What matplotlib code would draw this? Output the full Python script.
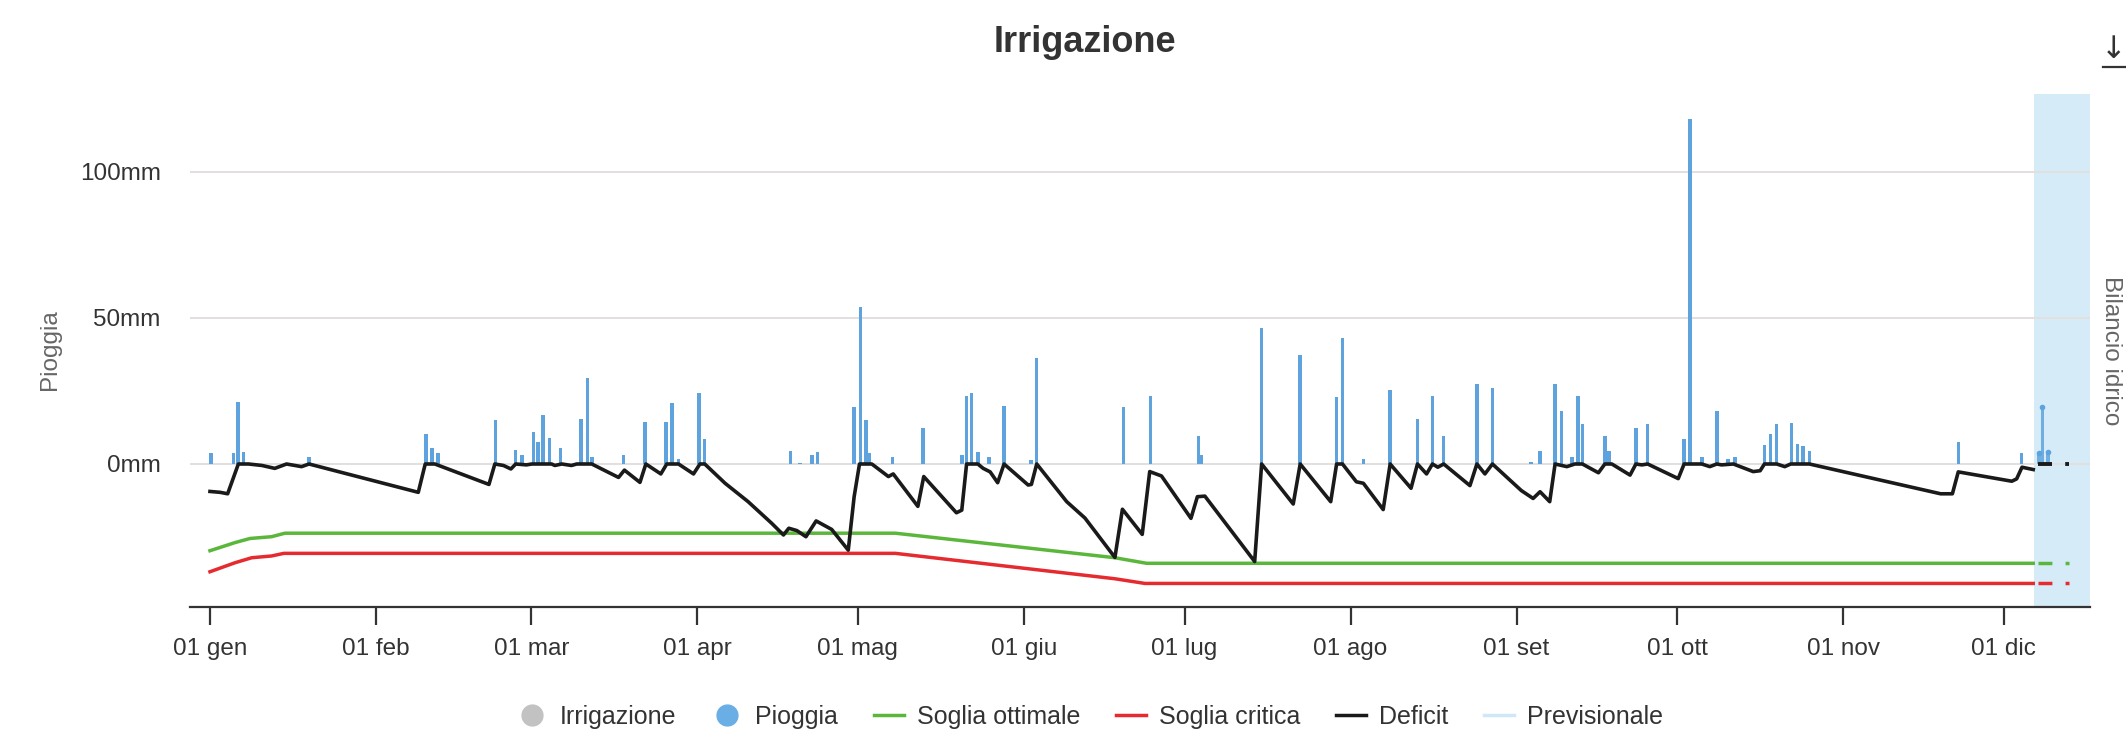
import matplotlib
matplotlib.use('Agg')
import matplotlib.pyplot as plt
from matplotlib.lines import Line2D

plt.rcParams['font.family'] = ['Liberation Sans', 'DejaVu Sans']

# ---------------- data (x = day of year 2024, 0 = 1 Jan) ----------------
month_ticks = [0, 31, 60, 91, 121, 152, 182, 213, 244, 274, 305, 335]
month_labels = ['01 gen', '01 feb', '01 mar', '01 apr', '01 mag', '01 giu',
                '01 lug', '01 ago', '01 set', '01 ott', '01 nov', '01 dic']
ytick_vals = [0, 50, 100]
ytick_labels = ['0mm', '50mm', '100mm']

rain_day = [0.2, 4.4, 5.2, 6.3, 18.5, 40.3, 41.5, 42.6, 53.3, 57.1, 58.3, 60.4, 61.3,
            62.2, 63.4, 65.5, 69.3, 70.5, 71.3, 77.2, 81.2, 85.2, 86.3, 87.5, 91.3, 92.4,
            108.4, 110.2, 112.4, 113.5, 120.3, 121.5, 122.5, 123.2, 127.5, 133.2, 140.4,
            141.3, 142.2, 143.4, 145.5, 148.3, 153.3, 154.4, 170.6, 175.6, 184.6, 185.2,
            196.4, 203.6, 210.4, 211.5, 215.4, 220.4, 225.5, 228.3, 230.4, 236.6, 239.5,
            246.7, 248.4, 251.2, 252.4, 254.4, 255.5, 256.3, 260.5, 261.3, 266.3, 268.5,
            275.3, 276.4, 278.6, 281.4, 283.5, 284.8, 290.3, 291.4, 292.6, 295.4, 296.5,
            297.5, 298.7, 326.5, 338.3]
rain_mm = [3.7, 3.9, 21.4, 4.0, 2.3, 10.2, 5.6, 3.7, 14.9, 4.8, 3.1, 11.0, 7.5,
           16.7, 9.0, 5.6, 15.4, 29.4, 2.3, 3.1, 14.3, 14.3, 20.8, 1.6, 24.2, 8.5,
           4.6, 0.5, 3.1, 4.2, 19.4, 53.9, 15.1, 3.7, 2.3, 12.2, 3.1,
           23.3, 24.2, 4.2, 2.3, 19.9, 1.4, 36.2, 19.4, 23.3, 9.6, 3.1,
           46.5, 37.4, 22.9, 43.1, 1.6, 25.4, 15.4, 23.3, 9.6, 27.4, 26.0,
           0.8, 4.5, 27.4, 18.0, 2.3, 23.3, 13.6, 9.7, 4.6, 12.2, 13.7,
           8.5, 118.0, 2.5, 18.0, 1.6, 2.3, 6.5, 10.2, 13.6, 14.2, 6.9,
           6.2, 4.5, 7.7, 3.7]

fc_rain_day = [341.6, 342.2, 343.3]
fc_rain_mm = [3.9, 19.6, 4.0]

deficit_day = [0, 1.9, 3.3, 5.3, 7.2, 9.7, 12.1, 14.3, 17.1, 18.5,
               38.9, 40.2, 42.0, 52.1, 53.2, 54.8, 56.2, 57.1, 59.1, 60.1,
               63.8, 64.4, 65.7, 67.5, 68.5, 71.3, 76.3, 77.4, 80.3, 81.4,
               84.2, 85.3, 87.5, 90.3, 91.5, 92.4, 96.2, 100.5, 104.9, 107.1,
               108.1, 109.6, 111.3, 113.2, 116.1, 119.2, 120.3, 121.3, 123.6, 126.7,
               127.6, 132.2, 133.3, 139.4, 140.4, 141.3, 143.4, 144.4, 145.7, 147.1,
               148.3, 152.8, 153.4, 154.4, 160.0, 163.4, 169.0, 170.4, 174.1, 175.5,
               177.7, 183.2, 184.4, 185.8, 195.1, 196.4, 202.3, 203.6, 209.3, 210.4,
               211.5, 214.1, 215.4, 219.1, 220.4, 224.3, 225.5, 227.2, 228.3, 229.3,
               230.4, 235.3, 236.6, 238.1, 239.5, 244.9, 247.1, 248.4, 250.2, 251.2,
               253.4, 254.9, 256.3, 259.3, 260.5, 261.8, 265.2, 266.3, 267.4, 268.5,
               274.2, 275.3, 277.6, 278.6, 280.1, 281.4, 282.3, 284.5, 288.2, 289.5,
               290.3, 292.6, 294.1, 295.2, 298.7, 323.2, 325.4, 326.5, 336.5, 337.4,
               338.4, 340.5]
deficit_mm = [-9.4, -9.7, -10.2, 0, 0, -0.5, -1.5, 0, -0.9, 0,
              -9.7, 0, 0, -7.0, 0, -0.5, -1.7, 0, -0.3, 0,
              0, -0.5, 0, -0.5, 0, 0, -4.6, -2.1, -6.3, 0,
              -3.4, 0, 0, -3.4, 0, 0, -6.6, -12.9, -20.3, -24.3,
              -22.0, -22.8, -24.9, -19.5, -22.4, -29.5, -11.2, 0, 0, -4.3,
              -3.4, -14.5, -4.3, -16.7, -15.8, 0, 0, -1.5, -2.7, -6.4,
              0, -7.2, -7.0, 0, -12.9, -18.5, -32.0, -15.5, -24.1, -2.6,
              -4.1, -18.6, -11.2, -11.0, -33.4, 0, -13.7, 0, -12.9, 0,
              0, -6.1, -6.6, -15.6, 0, -8.3, 0, -3.4, 0, -1.1,
              0, -7.4, 0, -3.4, 0, -9.1, -11.8, -9.5, -12.9, 0,
              -0.9, 0, 0, -3.0, 0, 0, -3.8, 0, -0.3, 0,
              -5.0, 0, 0, 0, -0.9, 0, -0.3, 0, -2.6, -2.3,
              0, 0, -0.9, 0, 0, -10.2, -10.2, -2.7, -5.9, -5.1,
              -1.1, -1.9]

opt_day = [0, 4.7, 7.5, 11.5, 14.0, 128.0, 169.0, 174.9, 340.5]
opt_mm = [-29.7, -26.9, -25.5, -24.9, -23.7, -23.7, -32.1, -34.0, -34.0]
crit_day = [0, 4.7, 7.8, 11.5, 13.8, 128.0, 169.0, 174.6, 340.5]
crit_mm = [-36.9, -33.8, -32.1, -31.5, -30.6, -30.6, -39.3, -40.9, -40.9]

fc_line_day = [341.4, 347.2]
fc_opt_mm = [-34.0, -34.0]
fc_crit_mm = [-40.9, -40.9]
fc_deficit_mm = [0, 0]

forecast_start = 340.6
x_range = (-3.73, 351.1)
y_range = (-48.97, 126.7)

# ---------------- style ----------------
BLUE = '#5ea3de'
GREEN = '#5bb73b'
RED = '#e52b2f'
BLACK = '#1a1a1a'
SHADE = '#d6ebf8'
TXT = '#333333'

W, H = 2126, 729
fig = plt.figure(figsize=(W / 100, H / 100), dpi=100)
ax = fig.add_axes([190 / W, 1 - 607 / H, 1900 / W, 513 / H])

ax.axvspan(forecast_start, x_range[1], color=SHADE, lw=0, zorder=0)

ax.bar(rain_day, rain_mm, width=0.65, color=BLUE, lw=0, zorder=2)
ax.bar(fc_rain_day, fc_rain_mm, width=0.65, color=BLUE, lw=0, zorder=2, alpha=0.85)
ax.plot(fc_rain_day, fc_rain_mm, 'o', color=BLUE, ms=3, zorder=2)

ax.plot(opt_day, opt_mm, color=GREEN, lw=2.5, zorder=3, solid_joinstyle='round')
ax.plot(crit_day, crit_mm, color=RED, lw=2.5, zorder=3, solid_joinstyle='round')
ax.plot(deficit_day, deficit_mm, color=BLACK, lw=2.6, zorder=4, solid_joinstyle='round')

ax.plot(fc_line_day, fc_opt_mm, color=GREEN, lw=2.5, zorder=3, dashes=(4.0, 3.8))
ax.plot(fc_line_day, fc_crit_mm, color=RED, lw=2.5, zorder=3, dashes=(4.0, 3.8))
ax.plot(fc_line_day, fc_deficit_mm, color=BLACK, lw=2.8, zorder=4, dashes=(3.6, 3.4))

ax.set_xlim(*x_range)
ax.set_ylim(*y_range)
ax.set_xticks(month_ticks)
ax.set_xticklabels(month_labels)
ax.set_yticks(ytick_vals)
ax.set_yticklabels(ytick_labels)
ax.yaxis.grid(True, color='#e3dfdf', lw=1.4)
ax.set_axisbelow(True)

for s in ['top', 'right', 'left']:
    ax.spines[s].set_visible(False)
ax.spines['bottom'].set_color(TXT)
ax.spines['bottom'].set_linewidth(1.6)
ax.spines['bottom'].set_zorder(5)

ax.tick_params(axis='x', length=13, width=1.6, color=TXT, pad=9,
               labelsize=17.5, labelcolor=TXT)
ax.tick_params(axis='y', length=0, pad=21, labelsize=17.5, labelcolor=TXT)

fig.text(1085 / W, 1 - 42 / H, 'Irrigazione', fontsize=26, fontweight='bold',
         ha='center', va='center', color=TXT)
fig.text(50 / W, 1 - 350 / H, 'Pioggia', fontsize=17.5, rotation=90,
         ha='center', va='center', color='#666666')
fig.text(2111 / W, 1 - 351 / H, 'Bilancio idrico', fontsize=17.5, rotation=270,
         ha='center', va='center', color='#666666')
fig.text(2114 / W, 1 - 50 / H, '\u2193', fontsize=22, ha='center', va='center',
         color=TXT, family='DejaVu Sans')
fig.add_artist(Line2D([2103 / W, 2126 / W], [1 - 67 / H, 1 - 67 / H],
                      transform=fig.transFigure, color=TXT, lw=1.6))

handles = [
    Line2D([], [], marker='o', ls='none', color='#c2c2c2', ms=15),
    Line2D([], [], marker='o', ls='none', color='#6aaee6', ms=15),
    Line2D([], [], color=GREEN, lw=2.5),
    Line2D([], [], color=RED, lw=2.5),
    Line2D([], [], color=BLACK, lw=2.5),
    Line2D([], [], color='#cfe7f6', lw=2.5),
]
labels = ['Irrigazione', 'Pioggia', 'Soglia ottimale', 'Soglia critica', 'Deficit', 'Previsionale']
fig.legend(handles, labels, loc='center', bbox_to_anchor=(1090 / W, 1 - 717 / H),
           ncol=6, frameon=False, fontsize=18, handlelength=1.2, handletextpad=0.5,
           columnspacing=1.45, labelcolor=TXT)

fig.savefig('out.png', dpi=100)
